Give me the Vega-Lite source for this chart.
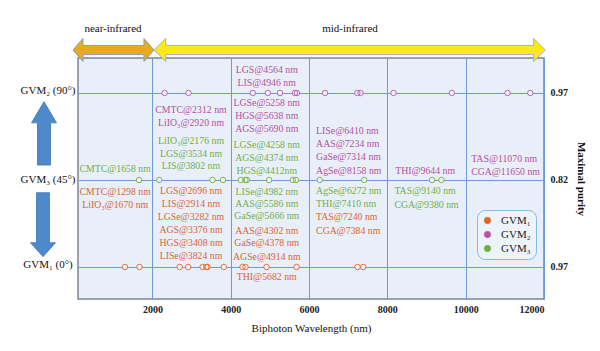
{
  "$schema": "https://vega.github.io/schema/vega-lite/v6.json",
  "width": 466,
  "height": 241,
  "autosize": {"type": "none"},
  "padding": {"left": 78, "top": 58, "right": 56, "bottom": 52},
  "background": "white",
  "config": {
    "font": "Liberation Serif",
    "view": {"fill": "#E9EFF9", "stroke": "#7A8599", "strokeWidth": 1.5}
  },
  "datasets": {
    "points": [
      {"wl": 2312, "gvm": "GVM₂", "level": 2}, {"wl": 2920, "gvm": "GVM₂", "level": 2},
      {"wl": 4564, "gvm": "GVM₂", "level": 2}, {"wl": 4946, "gvm": "GVM₂", "level": 2},
      {"wl": 5258, "gvm": "GVM₂", "level": 2}, {"wl": 5638, "gvm": "GVM₂", "level": 2},
      {"wl": 5690, "gvm": "GVM₂", "level": 2}, {"wl": 6410, "gvm": "GVM₂", "level": 2},
      {"wl": 7234, "gvm": "GVM₂", "level": 2}, {"wl": 7314, "gvm": "GVM₂", "level": 2},
      {"wl": 8158, "gvm": "GVM₂", "level": 2}, {"wl": 9644, "gvm": "GVM₂", "level": 2},
      {"wl": 11070, "gvm": "GVM₂", "level": 2}, {"wl": 11650, "gvm": "GVM₂", "level": 2},
      {"wl": 1658, "gvm": "GVM₃", "level": 1}, {"wl": 2176, "gvm": "GVM₃", "level": 1},
      {"wl": 3534, "gvm": "GVM₃", "level": 1}, {"wl": 3802, "gvm": "GVM₃", "level": 1},
      {"wl": 4258, "gvm": "GVM₃", "level": 1}, {"wl": 4374, "gvm": "GVM₃", "level": 1},
      {"wl": 4412, "gvm": "GVM₃", "level": 1}, {"wl": 4982, "gvm": "GVM₃", "level": 1},
      {"wl": 5586, "gvm": "GVM₃", "level": 1}, {"wl": 5666, "gvm": "GVM₃", "level": 1},
      {"wl": 6272, "gvm": "GVM₃", "level": 1}, {"wl": 7410, "gvm": "GVM₃", "level": 1},
      {"wl": 9140, "gvm": "GVM₃", "level": 1}, {"wl": 9380, "gvm": "GVM₃", "level": 1},
      {"wl": 1298, "gvm": "GVM₁", "level": 0}, {"wl": 1670, "gvm": "GVM₁", "level": 0},
      {"wl": 2696, "gvm": "GVM₁", "level": 0}, {"wl": 2914, "gvm": "GVM₁", "level": 0},
      {"wl": 3282, "gvm": "GVM₁", "level": 0}, {"wl": 3376, "gvm": "GVM₁", "level": 0},
      {"wl": 3408, "gvm": "GVM₁", "level": 0}, {"wl": 3824, "gvm": "GVM₁", "level": 0},
      {"wl": 4302, "gvm": "GVM₁", "level": 0}, {"wl": 4378, "gvm": "GVM₁", "level": 0},
      {"wl": 4914, "gvm": "GVM₁", "level": 0}, {"wl": 5682, "gvm": "GVM₁", "level": 0},
      {"wl": 7240, "gvm": "GVM₁", "level": 0}, {"wl": 7384, "gvm": "GVM₁", "level": 0}
    ],
    "labelsCentered": [
      {"label": "CMTC@1658 nm", "set": "GVM₃", "wl": 1050, "level": 1.126},
      {"label": "CMTC@1298 nm", "set": "GVM₁", "wl": 1050, "level": 0.862},
      {"label": "LiIO₃@1670 nm", "set": "GVM₁", "wl": 1050, "level": 0.713},
      {"label": "CMTC@2312 nm", "set": "GVM₂", "wl": 2985, "level": 1.805},
      {"label": "LiIO₃@2920 nm", "set": "GVM₂", "wl": 2985, "level": 1.655},
      {"label": "LiIO₃@2176 nm", "set": "GVM₃", "wl": 2985, "level": 1.448},
      {"label": "LGS@3534 nm", "set": "GVM₃", "wl": 2985, "level": 1.299},
      {"label": "LIS@3802 nm", "set": "GVM₃", "wl": 2985, "level": 1.161},
      {"label": "LGS@2696 nm", "set": "GVM₁", "wl": 2985, "level": 0.874},
      {"label": "LIS@2914 nm", "set": "GVM₁", "wl": 2985, "level": 0.724},
      {"label": "LGSe@3282 nm", "set": "GVM₁", "wl": 2985, "level": 0.575},
      {"label": "AGS@3376 nm", "set": "GVM₁", "wl": 2985, "level": 0.425},
      {"label": "HGS@3408 nm", "set": "GVM₁", "wl": 2985, "level": 0.276},
      {"label": "LISe@3824 nm", "set": "GVM₁", "wl": 2985, "level": 0.126},
      {"label": "LGS@4564 nm", "set": "GVM₂", "wl": 4920, "level": 2.264},
      {"label": "LIS@4946 nm", "set": "GVM₂", "wl": 4920, "level": 2.115},
      {"label": "LGSe@5258 nm", "set": "GVM₂", "wl": 4920, "level": 1.885},
      {"label": "HGS@5638 nm", "set": "GVM₂", "wl": 4920, "level": 1.736},
      {"label": "AGS@5690 nm", "set": "GVM₂", "wl": 4920, "level": 1.586},
      {"label": "LGSe@4258 nm", "set": "GVM₃", "wl": 4920, "level": 1.402},
      {"label": "AGS@4374 nm", "set": "GVM₃", "wl": 4920, "level": 1.253},
      {"label": "HGS@4412nm", "set": "GVM₃", "wl": 4920, "level": 1.103},
      {"label": "LISe@4982 nm", "set": "GVM₃", "wl": 4920, "level": 0.862},
      {"label": "AAS@5586 nm", "set": "GVM₃", "wl": 4920, "level": 0.724},
      {"label": "GaSe@5666 nm", "set": "GVM₃", "wl": 4920, "level": 0.586},
      {"label": "AAS@4302 nm", "set": "GVM₁", "wl": 4920, "level": 0.414},
      {"label": "GaSe@4378 nm", "set": "GVM₁", "wl": 4920, "level": 0.276},
      {"label": "AGSe@4914 nm", "set": "GVM₁", "wl": 4920, "level": 0.115},
      {"label": "THI@5682 nm", "set": "GVM₁", "wl": 4920, "level": -0.115}
    ],
    "labelsLeft": [
      {"label": "LISe@6410 nm", "set": "GVM₂", "wl": 6180, "level": 1.563},
      {"label": "AAS@7234 nm", "set": "GVM₂", "wl": 6180, "level": 1.414},
      {"label": "GaSe@7314 nm", "set": "GVM₂", "wl": 6180, "level": 1.264},
      {"label": "AgSe@8158 nm", "set": "GVM₂", "wl": 6180, "level": 1.103},
      {"label": "AgSe@6272 nm", "set": "GVM₃", "wl": 6180, "level": 0.874},
      {"label": "THI@7410 nm", "set": "GVM₃", "wl": 6180, "level": 0.724},
      {"label": "TAS@7240 nm", "set": "GVM₁", "wl": 6180, "level": 0.575},
      {"label": "CGA@7384 nm", "set": "GVM₁", "wl": 6180, "level": 0.414},
      {"label": "THI@9644 nm", "set": "GVM₂", "wl": 8200, "level": 1.103},
      {"label": "TAS@9140 nm", "set": "GVM₃", "wl": 8180, "level": 0.874},
      {"label": "CGA@9380 nm", "set": "GVM₃", "wl": 8180, "level": 0.713},
      {"label": "TAS@11070 nm", "set": "GVM₂", "wl": 10140, "level": 1.241},
      {"label": "CGA@11650 nm", "set": "GVM₂", "wl": 10140, "level": 1.092}
    ],
    "sideLabels": [
      {"label": "GVM₂ (90°)", "level": 2.02},
      {"label": "GVM₃ (45°)", "level": 1.0},
      {"label": "GVM₁ (0°)", "level": 0.02}
    ],
    "bands": [
      {"band": "near-infrared", "mid": 1006, "labelwl": 994},
      {"band": "mid-infrared", "mid": 7038, "labelwl": 7046}
    ]
  },
  "layer": [
    {
      "data": {"name": "points"},
      "mark": {"type": "point", "filled": true, "color": "#EDF2FB", "size": 30, "opacity": 1},
      "encoding": {
        "x": {
          "field": "wl", "type": "quantitative",
          "scale": {"domain": [100, 12000], "nice": false, "zero": false},
          "axis": {
            "orient": "bottom", "values": [2000, 4000, 6000, 8000, 10000, 12000],
            "title": "Biphoton Wavelength (nm)", "titleFont": "Liberation Serif", "titleFontSize": 11,
            "titleFontWeight": "normal", "titleColor": "#111", "titlePadding": 8,
            "labelFont": "Liberation Serif", "labelFontSize": 10, "labelFontWeight": "bold", "labelColor": "#222",
            "labelPadding": 5, "ticks": false, "domain": false,
            "grid": true, "gridColor": "#6E9BD8", "gridWidth": 1, "gridOpacity": 1,
            "format": "d"
          }
        },
        "y": {
          "field": "level", "type": "quantitative",
          "scale": {"domain": [-0.368, 2.402], "nice": false, "zero": false},
          "axis": {
            "orient": "right", "values": [0, 1, 2],
            "labelExpr": "datum.value == 1 ? '0.82' : '0.97'",
            "title": "Maximal purity", "titleFont": "Liberation Serif", "titleFontSize": 11,
            "titleFontWeight": "bold", "titleColor": "#111", "titlePadding": 8,
            "labelFont": "Liberation Serif", "labelFontSize": 10, "labelFontWeight": "bold", "labelColor": "#222",
            "labelPadding": 6, "ticks": false, "domain": false,
            "grid": true, "gridColor": "#6E9BD8", "gridWidth": 1, "gridOpacity": 1
          }
        }
      }
    },
    {
      "data": {"name": "points"},
      "mark": {"type": "point", "filled": false, "size": 30, "strokeWidth": 1, "opacity": 1},
      "encoding": {
        "x": {"field": "wl", "type": "quantitative"},
        "y": {"field": "level", "type": "quantitative"},
        "stroke": {
          "field": "gvm", "type": "nominal",
          "scale": {"domain": ["GVM₁", "GVM₂", "GVM₃"], "range": ["#E2743E", "#C266B4", "#7DB84E"]},
          "legend": {
            "orient": "none", "legendX": 399, "legendY": 152, "title": null,
            "strokeColor": "#7DBDE8", "fillColor": "#EDF3FB", "cornerRadius": 8, "padding": 5,
            "labelFont": "Liberation Serif", "labelFontSize": 11, "labelColor": "#222",
            "symbolSize": 40, "symbolStrokeWidth": 1, "rowPadding": 2, "symbolType": "circle",
            "symbolFillColor": "#EDF3FB", "labelOffset": 8,
            "encode": {"symbols": {"update": {"fill": {"value": "#EDF3FB"}, "strokeWidth": {"value": 1}, "opacity": {"value": 1}}}}
          }
        }
      }
    },
    {
      "data": {"name": "labelsCentered"},
      "mark": {"type": "text", "align": "center", "baseline": "middle", "fontSize": 9.8, "font": "Liberation Serif"},
      "encoding": {
        "x": {"field": "wl", "type": "quantitative"},
        "y": {"field": "level", "type": "quantitative"},
        "text": {"field": "label"},
        "fill": {
          "field": "set", "type": "nominal",
          "scale": {"domain": ["GVM₁", "GVM₂", "GVM₃"], "range": ["#DA6530", "#B44FA2", "#6FAF45"]},
          "legend": null
        }
      }
    },
    {
      "data": {"name": "labelsLeft"},
      "mark": {"type": "text", "align": "left", "baseline": "middle", "fontSize": 9.8, "font": "Liberation Serif"},
      "encoding": {
        "x": {"field": "wl", "type": "quantitative"},
        "y": {"field": "level", "type": "quantitative"},
        "text": {"field": "label"},
        "fill": {
          "field": "set", "type": "nominal",
          "scale": {"domain": ["GVM₁", "GVM₂", "GVM₃"], "range": ["#DA6530", "#B44FA2", "#6FAF45"]},
          "legend": null
        }
      }
    },
    {
      "data": {"name": "sideLabels"},
      "mark": {"type": "text", "align": "center", "baseline": "middle", "fontSize": 11, "font": "Liberation Serif", "color": "#111"},
      "encoding": {
        "x": {"datum": -666, "type": "quantitative"},
        "y": {"field": "level", "type": "quantitative"},
        "text": {"field": "label"}
      }
    },
    {
      "data": {"values": [{"arrow": "up"}]},
      "mark": {"type": "point", "filled": true, "size": 4, "fill": "#4E8ACB", "stroke": "#3F75B2", "strokeWidth": 0.8, "opacity": 1,
        "shape": "M -6.5 31.7 L 6.5 31.7 L 6.5 -10.5 L 12.5 -10.5 L 0 -31.7 L -12.5 -10.5 L -6.5 -10.5 Z"},
      "encoding": {
        "x": {"datum": -768, "type": "quantitative"},
        "y": {"datum": 1.536, "type": "quantitative"}
      }
    },
    {
      "data": {"values": [{"arrow": "down"}]},
      "mark": {"type": "point", "filled": true, "size": 4, "fill": "#4E8ACB", "stroke": "#3F75B2", "strokeWidth": 0.8, "opacity": 1,
        "shape": "M -6.5 -32 L 6.5 -32 L 6.5 18 L 12.5 18 L 0 32 L -12.5 18 L -6.5 18 Z"},
      "encoding": {
        "x": {"datum": -794, "type": "quantitative"},
        "y": {"datum": 0.486, "type": "quantitative"}
      }
    },
    {
      "data": {"name": "bands"},
      "transform": [{"filter": "datum.band == 'near-infrared'"}],
      "mark": {"type": "point", "filled": true, "size": 4, "fill": "#E6AC1C", "stroke": "#8C9DB4", "strokeWidth": 1, "opacity": 1,
        "shape": "M -40.5 0 L -30.5 -11.5 L -30.5 -4.6 L 30.5 -4.6 L 30.5 -11.5 L 40.5 0 L 30.5 11.5 L 30.5 4.6 L -30.5 4.6 L -30.5 11.5 Z"},
      "encoding": {
        "x": {"field": "mid", "type": "quantitative"},
        "y": {"datum": 2.494, "type": "quantitative"}
      }
    },
    {
      "data": {"name": "bands"},
      "transform": [{"filter": "datum.band == 'mid-infrared'"}],
      "mark": {"type": "point", "filled": true, "size": 4, "fill": "#FCE81C", "stroke": "#9FB1C8", "strokeWidth": 1, "opacity": 1,
        "shape": "M -195.5 0 L -184 -11.5 L -184 -4.6 L 184 -4.6 L 184 -11.5 L 195.5 0 L 184 11.5 L 184 4.6 L -184 4.6 L -184 11.5 Z"},
      "encoding": {
        "x": {"field": "mid", "type": "quantitative"},
        "y": {"datum": 2.494, "type": "quantitative"}
      }
    },
    {
      "data": {"name": "bands"},
      "mark": {"type": "text", "align": "center", "baseline": "middle", "fontSize": 11, "font": "Liberation Serif", "color": "#111"},
      "encoding": {
        "x": {"field": "labelwl", "type": "quantitative"},
        "y": {"datum": 2.736, "type": "quantitative"},
        "text": {"field": "band"}
      }
    }
  ]
}
